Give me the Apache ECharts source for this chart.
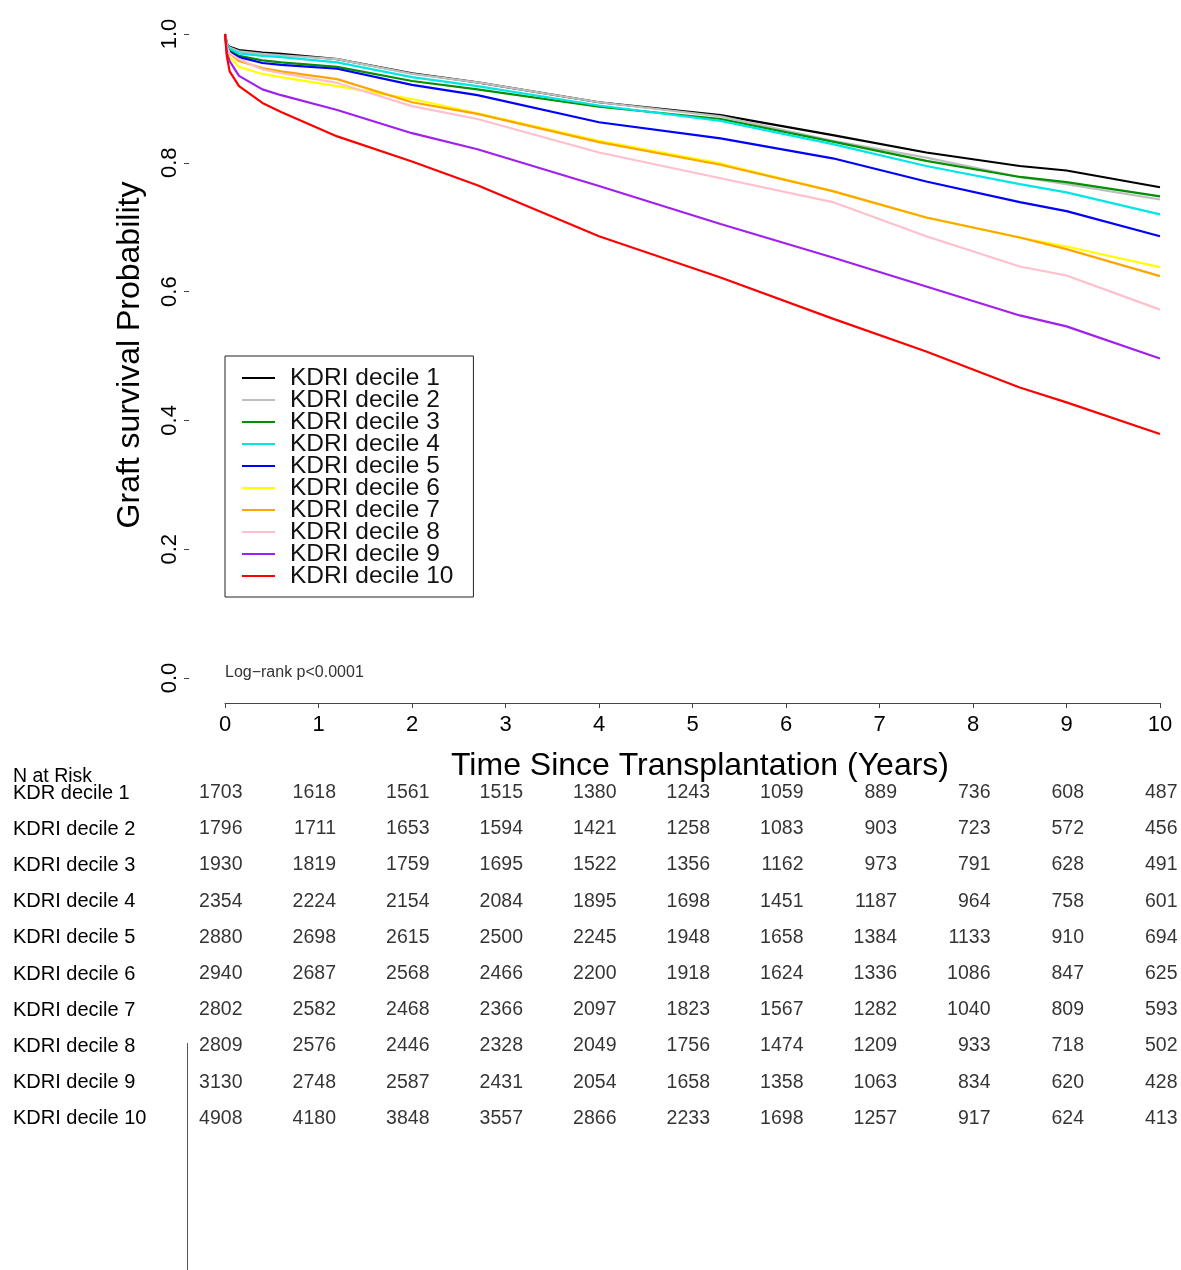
<!DOCTYPE html>
<html>
<head>
<meta charset="utf-8">
<script src="https://cdn.jsdelivr.net/npm/echarts@6/dist/echarts.min.js"></script>
<style>html,body{margin:0;padding:0;background:#fff}#c{width:1181px;height:1270px}</style>
</head>
<body>
<div id="c"></div>
<script>
// ---- data ----
const times = [0, 0.02, 0.05, 0.15, 0.4, 0.6, 1.2, 2, 2.7, 4, 5.3, 6.5, 7.5, 8.5, 9, 10];
const seriesNames = ['KDRI decile 1','KDRI decile 2','KDRI decile 3','KDRI decile 4','KDRI decile 5','KDRI decile 6','KDRI decile 7','KDRI decile 8','KDRI decile 9','KDRI decile 10'];
const decile1  = [1, 0.985, 0.980, 0.975, 0.971, 0.969, 0.961, 0.939, 0.925, 0.894, 0.874, 0.843, 0.816, 0.795, 0.788, 0.762];
const decile2  = [1, 0.984, 0.979, 0.973, 0.969, 0.967, 0.961, 0.938, 0.925, 0.894, 0.872, 0.834, 0.808, 0.778, 0.767, 0.743];
const decile3  = [1, 0.982, 0.975, 0.966, 0.959, 0.956, 0.949, 0.927, 0.914, 0.887, 0.868, 0.833, 0.803, 0.778, 0.770, 0.748];
const decile4  = [1, 0.984, 0.977, 0.970, 0.966, 0.964, 0.956, 0.933, 0.919, 0.889, 0.865, 0.829, 0.795, 0.767, 0.754, 0.720];
const decile5  = [1, 0.980, 0.972, 0.964, 0.955, 0.952, 0.946, 0.921, 0.905, 0.863, 0.838, 0.807, 0.771, 0.739, 0.725, 0.686];
const decile6  = [1, 0.975, 0.964, 0.949, 0.938, 0.933, 0.919, 0.899, 0.877, 0.834, 0.799, 0.756, 0.715, 0.684, 0.670, 0.638];
const decile7  = [1, 0.980, 0.970, 0.958, 0.947, 0.942, 0.930, 0.894, 0.876, 0.832, 0.797, 0.756, 0.715, 0.684, 0.666, 0.624];
const decile8  = [1, 0.980, 0.970, 0.961, 0.945, 0.939, 0.924, 0.888, 0.868, 0.816, 0.776, 0.739, 0.686, 0.639, 0.625, 0.572];
const decile9  = [1, 0.970, 0.958, 0.935, 0.914, 0.905, 0.882, 0.846, 0.821, 0.764, 0.705, 0.653, 0.608, 0.563, 0.546, 0.496];
const decile10 = [1, 0.965, 0.942, 0.919, 0.893, 0.879, 0.841, 0.802, 0.765, 0.686, 0.622, 0.558, 0.507, 0.451, 0.428, 0.379];
const survival = [decile1, decile2, decile3, decile4, decile5, decile6, decile7, decile8, decile9, decile10];
const colors = ['#000000','#BEBEBE','#009000','#00E5E5','#0000FF','#FFFF00','#FFA500','#FFC0CB','#A020F0','#FF0000'];

const xTicks = [0,1,2,3,4,5,6,7,8,9,10];
const yTicks = [0,0.2,0.4,0.6,0.8,1.0];

const riskTimes = [0,1,2,3,4,5,6,7,8,9,10];
const riskRowLabels = ['KDR decile 1','KDRI decile 2','KDRI decile 3','KDRI decile 4','KDRI decile 5','KDRI decile 6','KDRI decile 7','KDRI decile 8','KDRI decile 9','KDRI decile 10'];
const risk1  = [1703,1618,1561,1515,1380,1243,1059,889,736,608,487];
const risk2  = [1796,1711,1653,1594,1421,1258,1083,903,723,572,456];
const risk3  = [1930,1819,1759,1695,1522,1356,1162,973,791,628,491];
const risk4  = [2354,2224,2154,2084,1895,1698,1451,1187,964,758,601];
const risk5  = [2880,2698,2615,2500,2245,1948,1658,1384,1133,910,694];
const risk6  = [2940,2687,2568,2466,2200,1918,1624,1336,1086,847,625];
const risk7  = [2802,2582,2468,2366,2097,1823,1567,1282,1040,809,593];
const risk8  = [2809,2576,2446,2328,2049,1756,1474,1209,933,718,502];
const risk9  = [3130,2748,2587,2431,2054,1658,1358,1063,834,620,428];
const risk10 = [4908,4180,3848,3557,2866,2233,1698,1257,917,624,413];
const nAtRisk = [risk1,risk2,risk3,risk4,risk5,risk6,risk7,risk8,risk9,risk10];

// ---- chart ----
const FONT = '"Liberation Sans", Arial, Helvetica, sans-serif';
const chart = echarts.init(document.getElementById('c'), null, {renderer:'canvas'});

const survSeries = survival.map((vals, i) => ({
  name: seriesNames[i],
  type: 'line',
  xAxisIndex: 0, yAxisIndex: 0,
  data: times.map((t, j) => [t, vals[j]]),
  symbol: 'none', showSymbol: false,
  lineStyle: {color: colors[i], width: 2.2},
  itemStyle: {color: colors[i]},
  silent: true
}));

const riskData = [];
nAtRisk.forEach((row, i) => row.forEach((n, j) => riskData.push({value: [riskTimes[j], i], n: n})));

const riskSeries = {
  type: 'scatter',
  xAxisIndex: 1, yAxisIndex: 1,
  symbolSize: 1,
  itemStyle: {color: 'rgba(0,0,0,0)'},
  data: riskData,
  silent: true,
  label: {
    show: true, position: [18, 0], align: 'right', verticalAlign: 'middle',
    formatter: p => String(p.data.n),
    fontSize: 19.5, color: '#000', fontFamily: FONT
  }
};

chart.setOption({
  animation: false,
  backgroundColor: '#fff',
  textStyle: {fontFamily: FONT},
  grid: [
    {left: 225, right: 21, top: 34, bottom: 592, containLabel: false},
    {left: 225, right: 21, top: 775, height: 362, containLabel: false},
    {left: 189, right: 21, top: 34, bottom: 592, containLabel: false}
  ],
  xAxis: [
    {
      gridIndex: 0, type: 'value', min: xTicks[0], max: xTicks[xTicks.length-1], interval: 1,
      position: 'bottom', offset: 25,
      axisLine: {show: true, onZero: false, lineStyle: {color: '#444', width: 1}},
      axisTick: {show: true, length: 5, inside: false, lineStyle: {color: '#444', width: 1}},
      axisLabel: {fontSize: 22, color: '#000', margin: 11, fontFamily: FONT},
      splitLine: {show: false}
    },
    {gridIndex: 1, type: 'value', min: 0, max: 10, show: false},
    {gridIndex: 2, type: 'value', min: 0, max: 10, show: false}
  ],
  yAxis: [
    {gridIndex: 0, type: 'value', min: yTicks[0], max: yTicks[yTicks.length-1], interval: 0.2, show: false},
    {
      gridIndex: 1, type: 'category', data: riskRowLabels, inverse: true,
      axisLine: {show: false}, axisTick: {show: false}, splitLine: {show: false},
      axisLabel: {align: 'left', margin: 212, fontSize: 20, color: '#000', fontFamily: FONT}
    },
    {
      gridIndex: 2, type: 'value', min: yTicks[0], max: yTicks[yTicks.length-1], interval: 0.2,
      position: 'left',
      axisLine: {show: false},
      axisTick: {show: true, length: 5, inside: false, lineStyle: {color: '#444', width: 1}},
      axisLabel: {rotate: 90, fontSize: 22, color: '#000', margin: 8, fontFamily: FONT, formatter: v => v.toFixed(1)},
      splitLine: {show: false}
    }
  ],
  legend: {
    data: seriesNames,
    orient: 'vertical',
    left: 225, top: 356,
    padding: [9.5, 20, 8.5, 17],
    itemGap: -3, itemWidth: 33, itemHeight: 2,
    icon: 'rect',
    borderColor: '#222', borderWidth: 1,
    selectedMode: false,
    textStyle: {fontSize: 24.5, color: '#111', fontFamily: FONT, padding: [0, 0, 0, 10]}
  },
  graphic: [
    {type: 'text', x: 130, y: 355, rotation: Math.PI / 2,
     style: {text: 'Graft survival Probability', fontSize: 32, fontFamily: FONT, fill: '#000', align: 'center', verticalAlign: 'middle'}},
    {type: 'text', x: 700, y: 766,
     style: {text: 'Time Since Transplantation (Years)', fontSize: 32, fontFamily: FONT, fill: '#000', align: 'center', verticalAlign: 'middle'}},
    {type: 'text', x: 225, y: 673,
     style: {text: 'Log\u2212rank p<0.0001', fontSize: 16, fontFamily: FONT, fill: '#333', align: 'left', verticalAlign: 'middle'}},
    {type: 'text', x: 13, y: 777,
     style: {text: 'N at Risk', fontSize: 19.5, fontFamily: FONT, fill: '#000', align: 'left', verticalAlign: 'middle'}},
    {type: 'line', shape: {x1: 187.5, y1: 1043, x2: 187.5, y2: 1270}, style: {stroke: '#555', lineWidth: 1}}
  ],
  series: survSeries.concat([riskSeries])
});
</script>
</body>
</html>
